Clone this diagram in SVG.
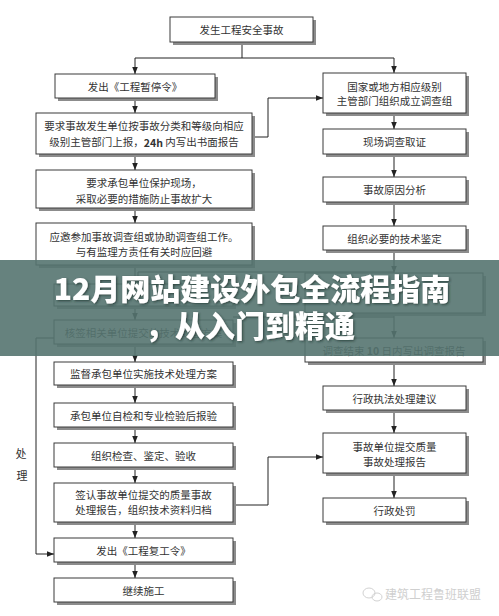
<svg xmlns="http://www.w3.org/2000/svg" width="499" height="616" viewBox="0 0 499 616">
<style>
.bg{fill:#ffffff}
.sh{fill:#8c8c8c}
.bx{fill:#ffffff;stroke:#3a3a3a;stroke-width:1}
.t{font-family:"Noto Sans CJK SC","Liberation Sans",sans-serif;font-size:10.5px;fill:#333333;text-anchor:middle;dominant-baseline:central}
.side{font-family:"Noto Sans CJK SC","Liberation Sans",sans-serif;font-size:11px;fill:#333333;text-anchor:middle;dominant-baseline:central}
.ln{fill:none;stroke:#222222;stroke-width:1}
.title{font-family:"Noto Sans CJK SC","Liberation Sans",sans-serif;font-size:30px;font-weight:900;fill:#ffffff;text-anchor:middle}
.wm{font-family:"Noto Sans CJK SC","Liberation Sans",sans-serif;font-size:12px;fill:#cfcfcf}
</style>
<defs>
<marker id="ah" viewBox="0 0 10 10" refX="10" refY="5" markerWidth="7" markerHeight="7" orient="auto" markerUnits="userSpaceOnUse">
<path d="M0,1 L10,5 L0,9 z" fill="#222222"/>
</marker>
<filter id="ts" x="-5%" y="-20%" width="110%" height="140%">
<feDropShadow dx="1.2" dy="1.2" stdDeviation="0.8" flood-color="#1e2e2b" flood-opacity="0.7"/>
</filter>
</defs>
<rect class="bg" x="0" y="0" width="499" height="616"/>

<g id="connectors">
<path class="ln" d="M242,42 V58"/>
<path class="ln" d="M135,58 H394"/>
<path class="ln" d="M135,58 V74" marker-end="url(#ah)"/>
<path class="ln" d="M394,58 V73" marker-end="url(#ah)"/>
<path class="ln" d="M135,98 V113" marker-end="url(#ah)"/>
<path class="ln" d="M135,154 V170" marker-end="url(#ah)"/>
<path class="ln" d="M135,208 V223" marker-end="url(#ah)"/>
<path class="ln" d="M135,265 V284" marker-end="url(#ah)"/>
<path class="ln" d="M394,272 H138 V284" marker-end="url(#ah)"/>
<path class="ln" d="M135,306 V320" marker-end="url(#ah)"/>
<path class="ln" d="M394,317 H233"/>
<path class="ln" d="M135,347 V362" marker-end="url(#ah)"/>
<path class="ln" d="M135,385 V403" marker-end="url(#ah)"/>
<path class="ln" d="M135,427 V443" marker-end="url(#ah)"/>
<path class="ln" d="M135,467 V483" marker-end="url(#ah)"/>
<path class="ln" d="M135,522 V538" marker-end="url(#ah)"/>
<path class="ln" d="M135,562 V578" marker-end="url(#ah)"/>
<path class="ln" d="M394,113 V129" marker-end="url(#ah)"/>
<path class="ln" d="M394,154 V177" marker-end="url(#ah)"/>
<path class="ln" d="M394,202 V226" marker-end="url(#ah)"/>
<path class="ln" d="M394,250 V273" marker-end="url(#ah)"/>
<path class="ln" d="M394,313 V338" marker-end="url(#ah)"/>
<path class="ln" d="M394,362 V386" marker-end="url(#ah)"/>
<path class="ln" d="M394,410 V433" marker-end="url(#ah)"/>
<path class="ln" d="M394,473 V498" marker-end="url(#ah)"/>
<path class="ln" d="M252,137 H268 V98 H323" marker-end="url(#ah)"/>
<path class="ln" d="M233,505 H268 V457 H323" marker-end="url(#ah)"/>
<path class="ln" d="M54,338 H36 V554 H54" marker-end="url(#ah)"/>
</g>

<g id="n-top"><rect class="sh" x="173" y="20" width="143" height="25"/><rect class="bx" x="170" y="17" width="143" height="25"/><text class="t" x="241.5" y="29.5">发生工程安全事故</text></g>

<g id="n-stop"><rect class="sh" x="58" y="77" width="160" height="24"/><rect class="bx" x="55" y="74" width="160" height="24"/><text class="t" x="135" y="86">发出《工程暂停令》</text></g>

<g id="n-report"><rect class="sh" x="39" y="116" width="216" height="41"/><rect class="bx" x="36" y="113" width="216" height="41"/><text class="t" x="144" y="125.5">要求事故发生单位按事故分类和等级向相应</text><text class="t" x="144" y="141.5">级别主管部门上报，<tspan font-weight="bold">24h</tspan> 内写出书面报告</text></g>

<g id="n-protect"><rect class="sh" x="39" y="173" width="216" height="38"/><rect class="bx" x="36" y="170" width="216" height="38"/><text class="t" x="144" y="182.5">要求承包单位保护现场，</text><text class="t" x="144" y="198">采取必要的措施防止事故扩大</text></g>

<g id="n-join"><rect class="sh" x="39" y="226" width="216" height="42"/><rect class="bx" x="36" y="223" width="216" height="42"/><text class="t" x="144" y="236">应邀参加事故调查组或协助调查组工作。</text><text class="t" x="144" y="251">与有监理方责任有关时应回避</text></g>

<g id="n-hidden-left"><rect class="sh" x="57" y="287" width="179" height="22"/><rect class="bx" x="54" y="284" width="179" height="22"/></g>

<g id="n-sign-plan"><rect class="sh" x="57" y="323" width="179" height="24"/><rect class="bx" x="54" y="320" width="179" height="24"/><text class="t" x="143.5" y="332.5">核签相关单位提交的技术处理方案</text></g>

<g id="n-supervise"><rect class="sh" x="57" y="365" width="179" height="23"/><rect class="bx" x="54" y="362" width="179" height="23"/><text class="t" x="143.5" y="373.5">监督承包单位实施技术处理方案</text></g>

<g id="n-selfcheck"><rect class="sh" x="57" y="406" width="179" height="24"/><rect class="bx" x="54" y="403" width="179" height="24"/><text class="t" x="143.5" y="415">承包单位自检和专业检验后报验</text></g>

<g id="n-inspect"><rect class="sh" x="57" y="446" width="179" height="24"/><rect class="bx" x="54" y="443" width="179" height="24"/><text class="t" x="143.5" y="455">组织检查、鉴定、验收</text></g>

<g id="n-archive"><rect class="sh" x="57" y="486" width="179" height="39"/><rect class="bx" x="54" y="483" width="179" height="39"/><text class="t" x="143.5" y="494">签认事故单位提交的质量事故</text><text class="t" x="143.5" y="509.5">处理报告，组织技术资料归档</text></g>

<g id="n-resume"><rect class="sh" x="57" y="541" width="179" height="24"/><rect class="bx" x="54" y="538" width="179" height="24"/><text class="t" x="143.5" y="550">发出《工程复工令》</text></g>

<g id="n-continue"><rect class="sh" x="57" y="581" width="179" height="24"/><rect class="bx" x="54" y="578" width="179" height="24"/><text class="t" x="143.5" y="590">继续施工</text></g>

<g id="n-team"><rect class="sh" x="326" y="76" width="143" height="40"/><rect class="bx" x="323" y="73" width="143" height="40"/><text class="t" x="394.5" y="86">国家或地方相应级别</text><text class="t" x="394.5" y="100.5">主管部门组织成立调查组</text></g>

<g id="n-evidence"><rect class="sh" x="326" y="132" width="143" height="25"/><rect class="bx" x="323" y="129" width="143" height="25"/><text class="t" x="394.5" y="141.5">现场调查取证</text></g>

<g id="n-cause"><rect class="sh" x="326" y="180" width="143" height="25"/><rect class="bx" x="323" y="177" width="143" height="25"/><text class="t" x="394.5" y="189.5">事故原因分析</text></g>

<g id="n-appraise"><rect class="sh" x="326" y="229" width="143" height="24"/><rect class="bx" x="323" y="226" width="143" height="24"/><text class="t" x="394.5" y="238">组织必要的技术鉴定</text></g>

<g id="n-hidden-right"><rect class="sh" x="308" y="276" width="178" height="40"/><rect class="bx" x="305" y="273" width="178" height="40"/></g>

<g id="n-invreport"><rect class="sh" x="308" y="341" width="178" height="24"/><rect class="bx" x="305" y="338" width="178" height="24"/><text class="t" x="394" y="350">调查结束 <tspan font-weight="bold">10</tspan> 日内写出调查报告</text></g>

<g id="n-advice"><rect class="sh" x="326" y="389" width="143" height="24"/><rect class="bx" x="323" y="386" width="143" height="24"/><text class="t" x="394.5" y="398">行政执法处理建议</text></g>

<g id="n-qreport"><rect class="sh" x="326" y="436" width="143" height="40"/><rect class="bx" x="323" y="433" width="143" height="40"/><text class="t" x="394.5" y="446">事故单位提交质量</text><text class="t" x="394.5" y="461.5">事故处理报告</text></g>

<g id="n-penalty"><rect class="sh" x="326" y="501" width="143" height="24"/><rect class="bx" x="323" y="498" width="143" height="24"/><text class="t" x="394.5" y="510">行政处罚</text></g>

<g id="side-label"><text class="side" x="21" y="453">处</text><text class="side" x="22" y="475">理</text></g>

<g id="watermark">
<ellipse cx="369" cy="593" rx="6" ry="5" fill="none" stroke="#d2d2d2" stroke-width="1"/>
<ellipse cx="377" cy="597" rx="5" ry="4" fill="none" stroke="#d2d2d2" stroke-width="1"/>
<text class="wm" x="385" y="599">建筑工程鲁班联盟</text>
</g>

<g id="banner">
<rect x="0" y="260" width="499" height="96" fill="#557470" opacity="0.9"/>
<g filter="url(#ts)">
<text class="title" x="252" y="300">12月网站建设外包全流程指南</text>
<text class="title" x="250" y="337">，从入门到精通</text>
</g>
</g>
</svg>
